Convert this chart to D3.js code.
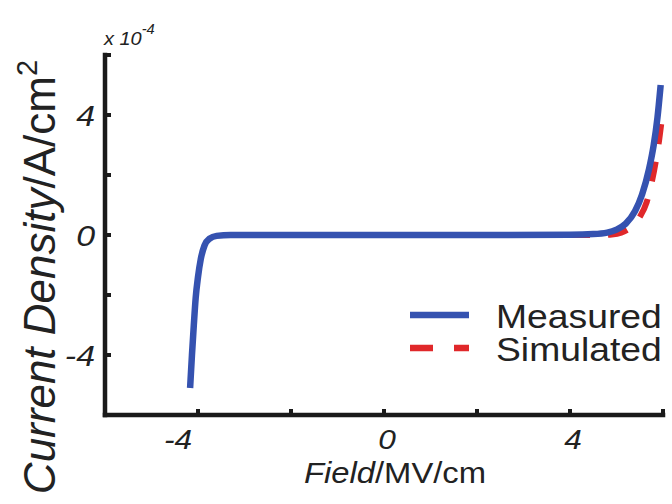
<!DOCTYPE html>
<html>
<head>
<meta charset="utf-8">
<title>J-E curve</title>
<script src="https://cdn.jsdelivr.net/npm/d3@7"></script>
<style>
  body { margin: 0; background: #fff; }
  text { font-family: "Liberation Sans", Arial, sans-serif; fill: #222; }
</style>
</head>
<body>
<svg id="chart" width="672" height="504"></svg>
<script>
// field in MV/cm, current density in units of 1e-4 A/cm2
const measuredField   = [-4.17, -4.13, -4.09, -4.05, -4.0, -3.94, -3.86, -3.75, -3.6, -3.3, -2, 0, 2, 4, 4.5, 4.8, 5.0, 5.2, 5.4, 5.55, 5.7, 5.8, 5.88, 5.95];
const measuredCurrent = [-5.1, -4.0, -3.0, -2.1, -1.4, -0.8, -0.35, -0.12, -0.03, 0, 0, 0, 0, 0.01, 0.03, 0.08, 0.18, 0.38, 0.8, 1.35, 2.2, 3.0, 3.9, 5.0];

const simulatedField   = [4.0, 4.6, 4.9, 5.1, 5.3, 5.5, 5.65, 5.75, 5.85, 5.92, 5.97];
const simulatedCurrent = [0, 0, 0.02, 0.08, 0.25, 0.6, 1.1, 1.7, 2.5, 3.2, 3.8];

const xTicks = [-6, -4, -2, 0, 2, 4, 6];
const xTickLabels = [-4, 0, 4];
const yTicks = [-6, -4, -2, 0, 2, 4, 6];
const yTickLabels = [-4, 0, 4];

const seriesNames = ["Measured", "Simulated"];
const seriesColors = ["#3552b0", "#e0282a"];

const svg = d3.select("#chart");
const stretch = 1.13;   // text in the figure is a bit wide

const x = d3.scaleLinear().domain([-6, 6]).range([105, 663]);
const y = d3.scaleLinear().domain([-6, 6]).range([415, 55]);

const line = d3.line()
    .x(d => x(d[0]))
    .y(d => y(d[1]))
    .curve(d3.curveMonotoneX);

const simData = simulatedField.map((f, i) => [f, simulatedCurrent[i]]);
const measData = measuredField.map((f, i) => [f, measuredCurrent[i]]);

// simulated underneath, measured on top
svg.append("path")
    .datum(simData)
    .attr("fill", "none")
    .attr("stroke", seriesColors[1])
    .attr("stroke-width", 6)
    .attr("stroke-dasharray", "20 18")
    .attr("d", line);

svg.append("path")
    .datum(measData)
    .attr("fill", "none")
    .attr("stroke", seriesColors[0])
    .attr("stroke-width", 6.5)
    .attr("stroke-linecap", "butt")
    .attr("stroke-linejoin", "round")
    .attr("d", line);

// axes (thick, no box, ticks pointing inward)
const axisColor = "#1a1a1a";
svg.append("line")
    .attr("x1", x(-6)).attr("x2", x(6))
    .attr("y1", y(-6)).attr("y2", y(-6))
    .attr("stroke", axisColor).attr("stroke-width", 4.5).attr("stroke-linecap", "square");
svg.append("line")
    .attr("x1", x(-6)).attr("x2", x(-6))
    .attr("y1", y(-6)).attr("y2", y(6))
    .attr("stroke", axisColor).attr("stroke-width", 4.5).attr("stroke-linecap", "square");

svg.selectAll(".xtick").data(xTicks).enter().append("line")
    .attr("x1", d => x(d)).attr("x2", d => x(d))
    .attr("y1", y(-6)).attr("y2", y(-6) - 6)
    .attr("stroke", axisColor).attr("stroke-width", 4);
svg.selectAll(".ytick").data(yTicks).enter().append("line")
    .attr("x1", x(-6)).attr("x2", x(-6) + 6)
    .attr("y1", d => y(d)).attr("y2", d => y(d))
    .attr("stroke", axisColor).attr("stroke-width", 4);

// tick labels
svg.selectAll(".xlab").data(xTickLabels).enter().append("text")
    .attr("transform", d => `translate(${x(d) + (d < 0 ? -20 : 3)},449) scale(${stretch},1)`)
    .attr("text-anchor", "middle")
    .style("font-size", "28px")
    .style("font-style", "italic")
    .text(d => d);
svg.selectAll(".ylab").data(yTickLabels).enter().append("text")
    .attr("transform", d => `translate(95,${y(d) + 11}) scale(${stretch},1)`)
    .attr("text-anchor", "end")
    .style("font-size", "30px")
    .style("font-style", "italic")
    .text(d => d);

// exponent
const expo = svg.append("text")
    .attr("transform", "translate(104,45) scale(1.05,1)")
    .style("font-size", "19px")
    .style("font-style", "italic");
expo.append("tspan").text("x 10");
expo.append("tspan").attr("dy", -11).style("font-size", "14px").text("-4");

// axis titles
const xt = svg.append("text")
    .attr("transform", `translate(395,483) scale(${stretch},1)`)
    .attr("text-anchor", "middle")
    .style("font-size", "29px");
xt.append("tspan").style("font-style", "italic").text("Field");
xt.append("tspan").text("/MV/cm");

const yt = svg.append("text")
    .attr("transform", "translate(55,277) rotate(-90)")
    .attr("text-anchor", "middle")
    .style("font-size", "44px");
yt.append("tspan").style("font-style", "italic").text("Current Density");
yt.append("tspan").text("/A/cm");
yt.append("tspan").attr("dy", -18).style("font-size", "29px").text("2");

// legend
const legend = svg.append("g");
seriesNames.forEach((name, i) => {
    const ly = 315 + i * 33;
    legend.append("line")
        .attr("x1", 410).attr("x2", 469)
        .attr("y1", ly).attr("y2", ly)
        .attr("stroke", seriesColors[i])
        .attr("stroke-width", 6.5)
        .attr("stroke-dasharray", i === 1 ? "23 21" : null);
    legend.append("text")
        .attr("transform", `translate(496,${ly + 3}) scale(${stretch},1)`)
        .attr("dy", "0.3em")
        .style("font-size", "33px")
        .text(name);
});
</script>
</body>
</html>
